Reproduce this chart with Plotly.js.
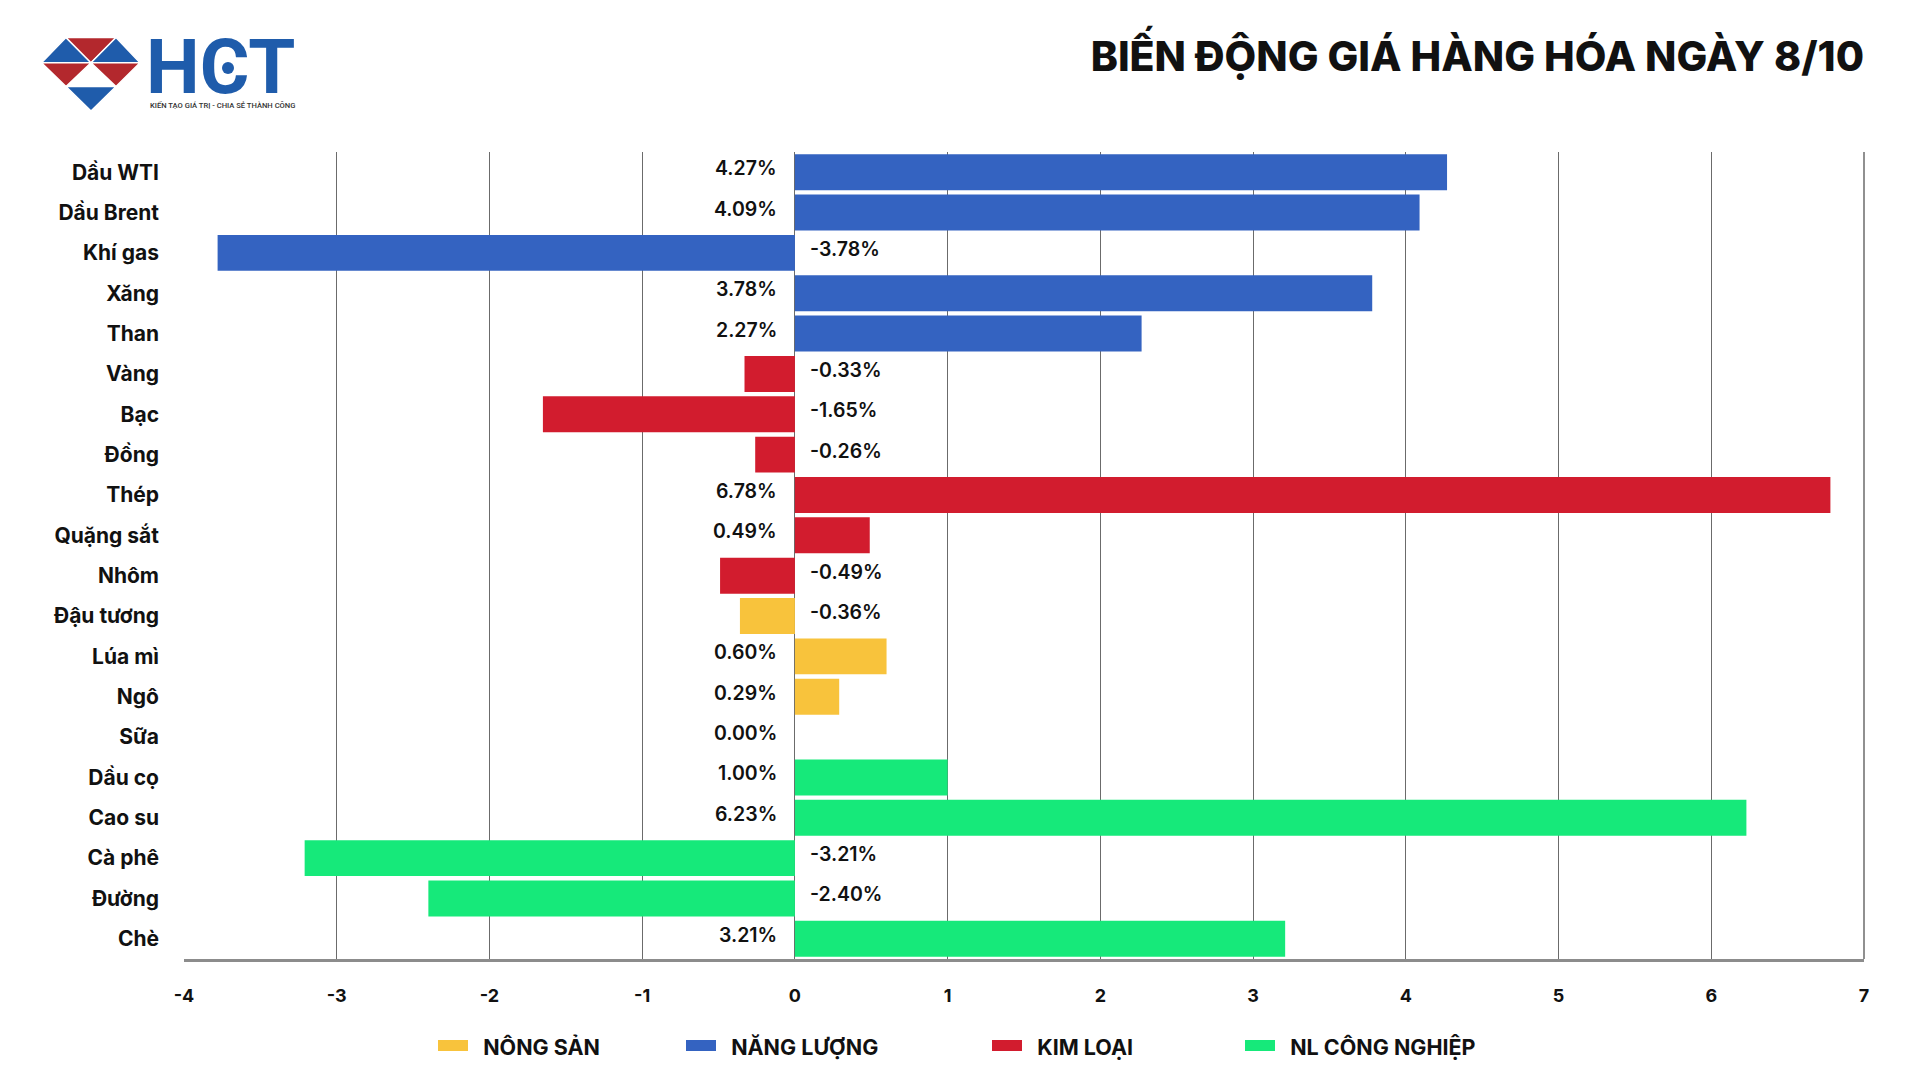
<!DOCTYPE html>
<html>
<head>
<meta charset="utf-8">
<script src="https://cdn.plot.ly/plotly-3.0.1.min.js"></script>
<style>
  html, body { margin: 0; padding: 0; background: #ffffff; }
  #chart { width: 1920px; height: 1080px; }
</style>
</head>
<body>
<div id="chart"></div>
<script>
// ---- Data ----
const categories = ["Dầu WTI", "Dầu Brent", "Khí gas", "Xăng", "Than", "Vàng", "Bạc", "Đồng", "Thép", "Quặng sắt", "Nhôm", "Đậu tương", "Lúa mì", "Ngô", "Sữa", "Dầu cọ", "Cao su", "Cà phê", "Đường", "Chè"];
const values = [4.27, 4.09, -3.78, 3.78, 2.27, -0.33, -1.65, -0.26, 6.78, 0.49, -0.49, -0.36, 0.60, 0.29, 0.00, 1.00, 6.23, -3.21, -2.40, 3.21];
const groupOf = ["NĂNG LƯỢNG", "NĂNG LƯỢNG", "NĂNG LƯỢNG", "NĂNG LƯỢNG", "NĂNG LƯỢNG", "KIM LOẠI", "KIM LOẠI", "KIM LOẠI", "KIM LOẠI", "KIM LOẠI", "KIM LOẠI", "NÔNG SẢN", "NÔNG SẢN", "NÔNG SẢN", "NÔNG SẢN", "NL CÔNG NGHIỆP", "NL CÔNG NGHIỆP", "NL CÔNG NGHIỆP", "NL CÔNG NGHIỆP", "NL CÔNG NGHIỆP"];
const groupNames = ["NÔNG SẢN", "NĂNG LƯỢNG", "KIM LOẠI", "NL CÔNG NGHIỆP"];
const groupColors = ["#F8C33C", "#3463C1", "#D21C2E", "#16E97A"];
const xTicks = [-4, -3, -2, -1, 0, 1, 2, 3, 4, 5, 6, 7];
const titleText = "BIẾN ĐỘNG GIÁ HÀNG HÓA NGÀY 8/10";
const logoText = "HCT";
const logoTagline = "KIẾN TẠO GIÁ TRỊ - CHIA SẺ THÀNH CÔNG";

// ---- Geometry helpers (page pixels -> paper coords) ----
const W = 1920, H = 1080;
const M = { l: 184, r: 56, t: 152, b: 121 };
const PW = W - M.l - M.r, PH = H - M.t - M.b;
const px = x => (x - M.l) / PW;
const py = y => 1 - (y - M.t) / PH;

const FONT = "Inter, 'Open Sans', sans-serif";

// ---- Traces ----
const legendIds = ["legend", "legend2", "legend3", "legend4"];
const barTraces = groupNames.map((g, gi) => {
  const ys = [], xs = [];
  categories.forEach((c, i) => { if (groupOf[i] === g) { ys.push(c); xs.push(values[i]); } });
  return {
    type: "bar", orientation: "h", name: g, x: xs, y: ys,
    marker: { color: groupColors[gi] },
    showlegend: false, hoverinfo: "x+y"
  };
});
// legend entries (wide colour swatches)
const legendTraces = groupNames.map((g, gi) => ({
  type: "scatter", mode: "lines", name: "\u00A0\u00A0" + g, x: [null], y: [null],
  line: { color: groupColors[gi], width: 17 },
  fill: "toself", fillcolor: groupColors[gi],
  legend: legendIds[gi], showlegend: true, hoverinfo: "skip"
}));
const traces = barTraces.concat(legendTraces);

// ---- Value labels ----
const annotations = categories.map((c, i) => {
  const v = values[i];
  const neg = v < 0;
  return {
    x: 0, y: c, xref: "x", yref: "y",
    text: v.toFixed(2) + "%",
    showarrow: false,
    xanchor: neg ? "left" : "right",
    xshift: neg ? 13 : -16,
    yshift: 4,
    font: { family: FONT, size: 19.5, color: "#111111", weight: 600 }
  };
});

// Logo text
annotations.push({
  xref: "paper", yref: "paper", x: px(144), y: py(67), xanchor: "left", yanchor: "middle",
  text: logoText, showarrow: false, height: 58, valign: "middle",
  font: { family: "Roboto, Inter, sans-serif", size: 76, color: "#1F5CAB", weight: 700 }
});
annotations.push({
  xref: "paper", yref: "paper", x: px(148), y: py(105), xanchor: "left", yanchor: "middle",
  text: logoTagline, showarrow: false,
  font: { family: "Roboto, sans-serif", size: 7.6, color: "#333333", weight: 500 }
});

// ---- Logo shapes ----
const LX = [41.5, 66, 91, 116, 140];
const LY = [37.5, 62.7, 86.5, 111];
function tri(a, b, c, color) {
  const pts = [a, b, c].map(p => px(p[0]) + "," + py(p[1]));
  return {
    type: "path", xref: "paper", yref: "paper",
    path: "M" + pts[0] + " L" + pts[1] + " L" + pts[2] + " Z",
    fillcolor: color, line: { color: "#ffffff", width: 1.5 }, layer: "above"
  };
}
const LB = "#1F5CAB", LR = "#B3282D";
const shapes = [
  tri([LX[0], LY[1]], [LX[1], LY[0]], [LX[2], LY[1]], LB),
  tri([LX[1], LY[0]], [LX[3], LY[0]], [LX[2], LY[1]], LR),
  tri([LX[2], LY[1]], [LX[3], LY[0]], [LX[4], LY[1]], LB),
  tri([LX[0], LY[1]], [LX[2], LY[1]], [LX[1], LY[2]], LR),
  tri([LX[2], LY[1]], [LX[4], LY[1]], [LX[3], LY[2]], LR),
  tri([LX[1], LY[2]], [LX[3], LY[2]], [LX[2], LY[3]], LB)
];

// ---- Legends ----
const legendSwatchStart = [438, 686, 992, 1245];
const legends = {};
legendIds.forEach((id, i) => {
  legends[id] = {
    orientation: "h", x: px(legendSwatchStart[i] - 5), xanchor: "left",
    y: py(1047), yanchor: "middle", bgcolor: "rgba(0,0,0,0)",
    font: { family: FONT, size: 21.5, color: "#111111", weight: 700 },
    itemclick: false, itemdoubleclick: false
  };
});

const layout = Object.assign({
  width: W, height: H,
  margin: M,
  paper_bgcolor: "#ffffff", plot_bgcolor: "#ffffff",
  barmode: "overlay", bargap: 0.11,
  showlegend: true,
  title: {
    text: titleText, x: 1, xref: "paper", xanchor: "right",
    y: 1 - 57 / H, yref: "container", yanchor: "middle",
    font: { family: FONT, size: 41, color: "#111111", weight: 800 }
  },
  xaxis: {
    range: [-4, 7], tickvals: xTicks, ticktext: xTicks.map(String),
    showgrid: true, gridcolor: "#6b6b6b", gridwidth: 1,
    zeroline: true, zerolinecolor: "#6b6b6b", zerolinewidth: 1,
    showline: true, linecolor: "#8c8c8c", linewidth: 3,
    ticks: "", ticklabelstandoff: 18,
    tickfont: { family: FONT, size: 18, color: "#111111", weight: 700 },
    fixedrange: true
  },
  yaxis: {
    type: "category", categoryorder: "array", categoryarray: categories,
    autorange: "reversed", showgrid: false, zeroline: false, showline: false,
    ticks: "", ticklabelstandoff: 24,
    tickfont: { family: FONT, size: 21, color: "#111111", weight: 700 },
    fixedrange: true
  },
  annotations: annotations,
  shapes: shapes.concat([
    { type: "circle", xref: "paper", yref: "paper",
      x0: px(222), x1: px(234), y0: py(62), y1: py(74),
      fillcolor: "#1F5CAB", line: { width: 0 }, layer: "above" },
    { type: "line", xref: "paper", yref: "paper", x0: 1, x1: 1, y0: 0, y1: 1,
      line: { color: "#6b6b6b", width: 1.5 }, layer: "below" }
  ])
}, legends);

Plotly.newPlot("chart", traces, layout, { displayModeBar: false });
</script>
</body>
</html>
